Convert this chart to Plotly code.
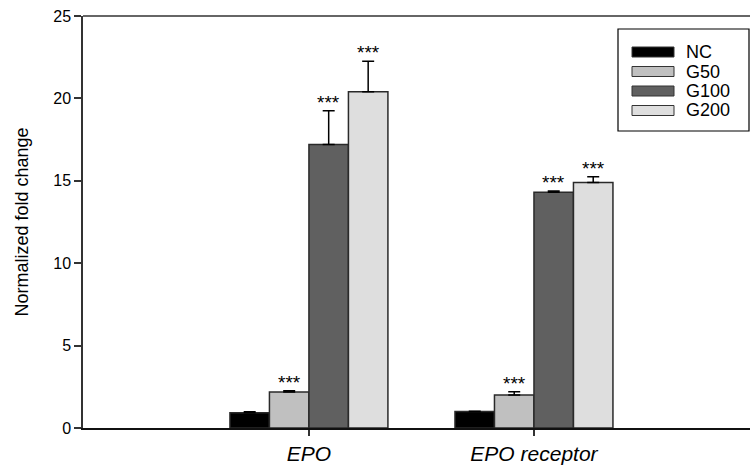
import plotly.graph_objects as go

# ---- data ----
categories = ["EPO", "EPO receptor"]
series_names = ["NC", "G50", "G100", "G200"]
nc_vals = [0.93, 1.00]
nc_err = [0.05, 0.02]
g50_vals = [2.18, 2.00]
g50_err = [0.08, 0.20]
g100_vals = [17.2, 14.3]
g100_err = [2.05, 0.08]
g200_vals = [20.4, 14.9]
g200_err = [1.85, 0.34]
sig_labels = [["", "***", "***", "***"], ["", "***", "***", "***"]]
y_ticks = [0, 5, 10, 15, 20, 25]

values = [nc_vals, g50_vals, g100_vals, g200_vals]
errors = [nc_err, g50_err, g100_err, g200_err]
colors = ["#000000", "#c0c0c0", "#606060", "#dedede"]

FONT = "Liberation Sans, Arial, sans-serif"
bargap = 0.298
xpos = list(range(len(categories)))

fig = go.Figure()
for name, vals, errs, col in zip(series_names, values, errors, colors):
    fig.add_trace(go.Bar(
        x=xpos, y=vals, name=name, showlegend=False,
        marker=dict(color=col, line=dict(color="#2a2a2a", width=1.5)),
        error_y=dict(type="data", symmetric=False, array=errs,
                     arrayminus=[0] * len(errs), color="#000000",
                     thickness=1.5, width=6),
    ))

# significance stars above error bars
nser = len(series_names)
bw = (1 - bargap) / nser
for ci in range(len(categories)):
    for si in range(nser):
        lab = sig_labels[ci][si]
        if lab:
            fig.add_annotation(
                x=xpos[ci] + (si - (nser - 1) / 2) * bw,
                y=values[si][ci] + errors[si][ci],
                text=lab, showarrow=False, yanchor="bottom", yshift=-4,
                font=dict(family=FONT, size=19, color="#000000"))

# plot area geometry (pixels) for legend placement
W, H = 751, 465
ml, mr, mt, mb = 83, 1, 16, 37
pw, ph = W - ml - mr, H - mt - mb

def xp(px):
    return (px - ml) / pw

def yp(py):
    return (H - mb - py) / ph

# manual legend with wide swatches
fig.add_shape(type="rect", xref="paper", yref="paper",
              x0=xp(618), x1=xp(749), y0=yp(131), y1=yp(29),
              line=dict(color="#000000", width=1.2), fillcolor="white")
row_y = [52, 71.5, 91, 110.5]
for name, col, ry in zip(series_names, colors, row_y):
    fig.add_shape(type="rect", xref="paper", yref="paper",
                  x0=xp(632), x1=xp(674), y0=yp(ry + 5), y1=yp(ry - 5),
                  line=dict(color="#333333", width=1), fillcolor=col)
    fig.add_annotation(xref="paper", yref="paper", x=xp(684), y=yp(ry),
                       text=name, showarrow=False, xanchor="left",
                       yanchor="middle",
                       font=dict(family=FONT, size=18, color="#000000"))

# top border line
fig.add_shape(type="line", xref="paper", yref="paper", x0=0, x1=1, y0=1, y1=1,
              line=dict(color="#333333", width=1.5))

fig.update_layout(
    width=W, height=H,
    margin=dict(l=ml, r=mr, t=mt, b=mb, autoexpand=False),
    plot_bgcolor="white", paper_bgcolor="white",
    barmode="group", bargap=bargap, bargroupgap=0,
    font=dict(family=FONT, color="#000000"),
    xaxis=dict(
        range=[-1.004, 1.96], tickmode="array", tickvals=xpos,
        ticktext=["<i>%s</i>" % c for c in categories],
        tickfont=dict(size=21), ticks="outside", ticklen=6, tickwidth=1.5,
        tickcolor="#333333", showline=True, linecolor="#111111", linewidth=2,
        showgrid=False, zeroline=False, automargin=False,
    ),
    yaxis=dict(
        range=[0, 25], tickmode="array", tickvals=y_ticks,
        tickfont=dict(size=16), ticks="outside", ticklen=7, tickwidth=1.5,
        tickcolor="#333333", showline=True, linecolor="#333333", linewidth=1.5,
        showgrid=False, zeroline=False, automargin=False,
        title=dict(text="Normalized fold change", font=dict(size=18), standoff=20),
    ),
)

fig.write_html(
    "out.html",
    config={"displayModeBar": False},
    post_script="document.body.style.margin='0';document.body.style.padding='0';"
                "document.body.style.overflow='hidden';",
)
